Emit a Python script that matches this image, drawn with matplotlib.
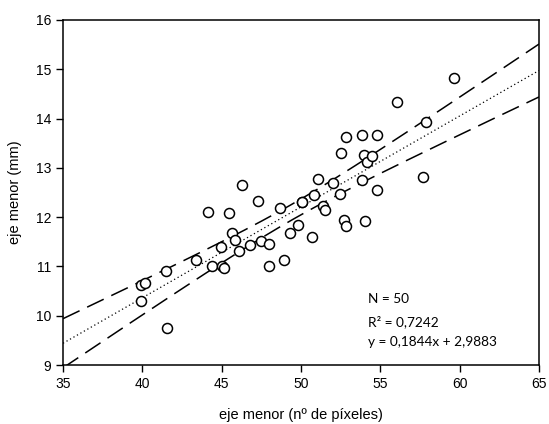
import numpy as np
import matplotlib
matplotlib.use("Agg")
from matplotlib import pyplot as plt

# eje menor measured in pixels vs. in mm
pixels = [41.55, 39.91, 39.91, 40.17, 41.49, 43.38, 44.39, 45.02, 45.14, 44.96,
          44.14, 45.46, 45.65, 45.84, 46.09, 46.28, 46.78, 47.29, 47.48, 47.98,
          47.98, 48.67, 48.93, 49.30, 49.81, 50.06, 50.69, 50.82, 51.07, 51.38,
          51.51, 52.01, 52.45, 52.52, 52.71, 52.83, 52.83, 53.84, 53.97, 53.84,
          54.03, 54.16, 54.47, 54.79, 54.79, 56.05, 57.68, 57.87, 59.64, 50.06]
mm = [9.76, 10.29, 10.63, 10.67, 10.90, 11.14, 11.00, 11.00, 10.96, 11.39,
      12.10, 12.08, 11.67, 11.53, 11.31, 12.65, 11.43, 12.33, 11.51, 11.45,
      11.00, 12.18, 11.14, 11.67, 11.84, 12.31, 11.59, 12.45, 12.78, 12.22,
      12.14, 12.69, 12.47, 13.31, 11.94, 11.82, 13.63, 13.67, 13.27, 12.76,
      11.92, 13.12, 13.24, 13.67, 12.55, 14.33, 12.82, 13.92, 14.82, 12.31]

slope = 0.1844
intercept = 2.9883
n_text = "N = 50"
r2_text = "R² = 0,7242"
eq_text = "y = 0,1844x + 2,9883"

x = np.array(pixels)
y = np.array(mm)

fig = plt.figure(figsize=(5.49, 4.24), dpi=100)
ax = fig.add_axes([0.1148, 0.139, 0.867, 0.814])

# regression line and 95% confidence band of the mean
xs = np.linspace(35, 65, 200)
fit = slope * xs + intercept
resid = y - (slope * x + intercept)
s = np.sqrt(np.sum(resid ** 2) / (len(x) - 2))
sxx = np.sum((x - x.mean()) ** 2)
half = 2.011 * s * np.sqrt(1 / len(x) + (xs - x.mean()) ** 2 / sxx)

ax.plot(xs, fit, color="black", lw=0.9, ls=(0, (1, 2.2)))
ax.plot(xs, fit + half, color="black", lw=1.1, ls=(0, (12, 5.5)))
ax.plot(xs, fit - half, color="black", lw=1.1, ls=(0, (12, 5.5)))

ax.plot(x, y, "o", ms=7.2, mfc="white", mec="black", mew=1.1, ls="none")

ax.set_xlim(35, 65)
ax.set_ylim(9, 16)
ax.set_xticks(np.arange(35, 66, 5))
ax.set_yticks(np.arange(9, 17, 1))
ax.tick_params(direction="out", length=5, width=1, top=False, right=False,
               labelsize=10)
for lbl in ax.get_xticklabels() + ax.get_yticklabels():
    lbl.set_family("Liberation Sans")
for sp in ax.spines.values():
    sp.set_linewidth(1.1)

ax.set_xlabel("eje menor (nº de píxeles)", fontsize=10.5,
              family="Liberation Sans", labelpad=12)
ax.set_ylabel("eje menor (mm)", fontsize=10.5,
              family="Liberation Sans", labelpad=10)

for ty, t in zip([10.35, 9.88, 9.47], [n_text, r2_text, eq_text]):
    ax.text(54.25, ty, t, fontsize=9.8, family="Lato", va="center", ha="left")

fig.savefig("out.png", dpi=100)
